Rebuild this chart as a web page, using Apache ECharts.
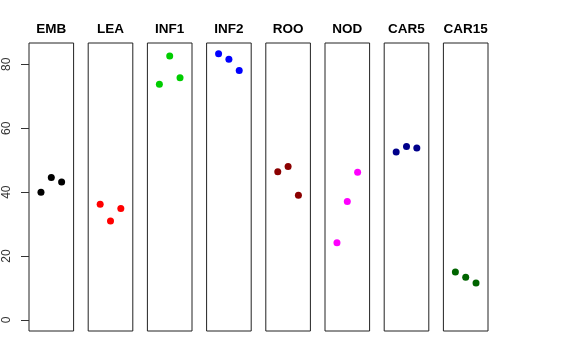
<!DOCTYPE html>
<html>
<head>
<meta charset="utf-8">
<script src="https://cdn.jsdelivr.net/npm/echarts@6/dist/echarts.min.js"></script>
<style>html,body{margin:0;padding:0;background:#fff}#c{width:576px;height:360px}</style>
</head>
<body>
<div id="c"></div>
<script>
const panels = ["EMB", "LEA", "INF1", "INF2", "ROO", "NOD", "CAR5", "CAR15"];
const colors = ["#000000", "#FF0000", "#00CD00", "#0000FF", "#8B0000", "#FF00FF", "#00008B", "#006400"];
const xPos = [1, 2, 3];
const EMB = [40.0, 44.6, 43.2];
const LEA = [36.2, 31.0, 34.9];
const INF1 = [73.8, 82.6, 75.8];
const INF2 = [83.3, 81.6, 78.1];
const ROO = [46.4, 48.0, 39.0];
const NOD = [24.2, 37.1, 46.2];
const CAR5 = [52.6, 54.3, 53.8];
const CAR15 = [15.0, 13.4, 11.6];
const values = [EMB, LEA, INF1, INF2, ROO, NOD, CAR5, CAR15];
const yTicks = [0, 20, 40, 60, 80];

const font = "'Liberation Sans', Arial, Helvetica, sans-serif";
const left0 = 29, step = 59.2, w = 44.6;
const grid = [], xAxis = [], yAxis = [], series = [], graphic = [];
panels.forEach((p, i) => {
  const l = left0 + i * step;
  grid.push({left: l, width: w, top: 43, height: 288, show: true, borderColor: '#222', borderWidth: 1, backgroundColor: 'transparent'});
  xAxis.push({gridIndex: i, type: 'value', min: -0.16, max: 4.16, show: false});
  yAxis.push({gridIndex: i, type: 'value', min: -3.44, max: 86.67, show: false});
  series.push({type: 'scatter', xAxisIndex: i, yAxisIndex: i, symbolSize: 7,
    itemStyle: {color: colors[i], opacity: 1},
    data: xPos.map((x, k) => [x, values[i][k]])});
  graphic.push({type: 'text', x: l + w / 2, y: 29,
    style: {text: p, textAlign: 'center', textVerticalAlign: 'middle', align: 'center', verticalAlign: 'middle',
      font: 'bold 13.5px ' + font, fill: '#000'}});
});
// axis grid for y ticks (values 0..80)
grid.push({left: left0, width: w, top: 64.3, height: 255.7, show: false});
xAxis.push({gridIndex: 8, type: 'value', min: 0, max: 1, show: false});
yAxis.push({gridIndex: 8, type: 'value', min: yTicks[0], max: yTicks[yTicks.length - 1], interval: 20,
  axisLine: {show: false}, splitLine: {show: false},
  axisTick: {show: true, length: 8, lineStyle: {color: '#333', width: 1}},
  axisLabel: {show: true, rotate: 90, margin: 16, fontFamily: font, fontSize: 12, color: '#333'}});

const chart = echarts.init(document.getElementById('c'), null, {renderer: 'canvas'});
chart.setOption({animation: false, backgroundColor: '#fff', graphic, grid, xAxis, yAxis, series});
</script>
</body>
</html>
